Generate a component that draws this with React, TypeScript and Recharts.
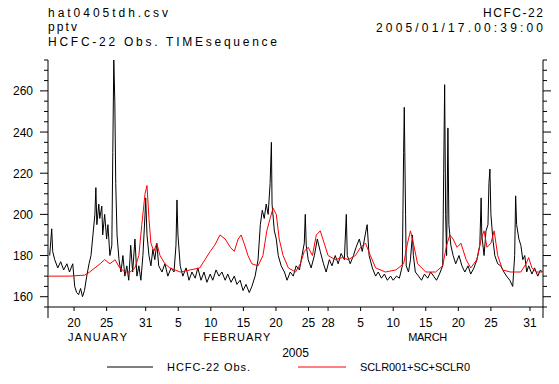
import { LineChart, Line, XAxis, YAxis } from "recharts";

// HCFC-22 observed, [day of 2005, pptv]
const observed: [number, number][] = [
  [16.26, 180], [16.57, 193], [16.72, 182], [17.03, 178], [17.5, 174], [17.95, 177],
  [18.4, 173], [18.9, 176], [19.3, 172], [19.8, 176], [20.1, 165], [20.4, 162],
  [20.7, 161], [21.0, 164], [21.3, 160], [21.6, 163], [21.95, 170], [22.3, 176],
  [22.6, 180], [22.9, 190], [23.2, 200], [23.35, 213], [23.5, 195], [23.8, 205],
  [23.95, 198], [24.26, 204], [24.4, 190], [24.7, 200], [25.0, 188], [25.2, 195],
  [25.5, 180], [25.8, 185], [25.95, 230], [26.1, 275], [26.26, 255], [26.4, 215],
  [26.6, 190], [26.9, 178], [27.2, 172], [27.5, 180], [27.8, 170], [28.1, 175],
  [28.4, 168], [28.7, 185], [29.0, 172], [29.35, 188], [29.65, 170], [29.95, 175],
  [30.26, 168], [30.57, 180], [30.9, 200], [31.0, 208], [31.2, 190], [31.5, 180],
  [31.8, 175], [32.1, 183], [32.4, 178], [32.7, 186], [33.0, 175], [33.5, 172],
  [33.95, 176], [34.4, 170], [34.9, 174], [35.35, 172], [35.65, 185], [35.8, 207],
  [35.95, 190], [36.3, 175], [36.7, 170], [37.2, 174], [37.65, 168], [38.1, 172],
  [38.6, 169], [39.0, 174], [39.5, 168], [39.95, 172], [40.4, 167], [40.9, 171],
  [41.3, 168], [41.8, 173], [42.25, 170], [42.7, 172], [43.2, 168], [43.6, 171],
  [44.1, 167], [44.6, 170], [45.0, 166], [45.5, 168], [45.95, 163], [46.4, 166],
  [46.9, 162], [47.3, 165], [47.8, 170], [48.25, 178], [48.6, 195], [48.9, 202],
  [49.2, 198], [49.5, 205], [49.8, 200], [50.1, 215], [50.3, 235], [50.4, 205],
  [50.75, 192], [51.05, 188], [51.35, 180], [51.8, 175], [52.3, 172], [52.7, 168],
  [53.2, 172], [53.65, 170], [54.1, 175], [54.6, 173], [55.0, 180], [55.35, 186],
  [55.5, 200], [55.65, 185], [55.95, 178], [56.4, 174], [56.9, 180], [57.35, 188],
  [57.8, 182], [58.3, 176], [58.7, 172], [59.2, 178], [59.6, 175], [60.1, 180],
  [60.55, 176], [61.0, 181], [61.5, 178], [61.8, 200], [61.95, 180], [62.4, 176],
  [62.9, 180], [63.3, 184], [63.8, 188], [64.25, 182], [64.7, 190], [65.0, 195],
  [65.3, 180], [65.8, 174], [66.3, 170], [66.7, 172], [67.2, 169], [67.65, 171],
  [68.1, 168], [68.6, 170], [69.0, 168], [69.5, 170], [69.95, 169], [70.4, 175],
  [70.6, 230], [70.7, 252], [70.9, 200], [71.0, 175], [71.35, 172], [71.65, 178],
  [71.95, 190], [72.1, 180], [72.4, 172], [72.9, 170], [73.35, 168], [73.8, 171],
  [74.3, 169], [74.75, 172], [75.2, 170], [75.65, 168], [76.1, 171], [76.6, 175],
  [76.75, 220], [76.9, 263], [77.05, 200], [77.2, 180], [77.4, 242], [77.55, 195],
  [77.85, 185], [78.2, 180], [78.6, 176], [79.1, 180], [79.55, 175], [80.0, 172],
  [80.5, 175], [80.9, 171], [81.4, 174], [81.85, 178], [82.3, 185], [82.5, 208],
  [82.6, 190], [82.95, 180], [83.25, 192], [83.55, 195], [83.7, 215], [83.85, 222],
  [84.0, 200], [84.3, 188], [84.6, 180], [85.05, 176], [85.5, 175], [86.0, 172],
  [86.4, 170], [86.9, 168], [87.35, 165], [87.65, 180], [87.8, 209], [87.95, 195],
  [88.3, 188], [88.6, 185], [88.9, 178], [89.2, 180], [89.5, 172], [89.8, 175],
  [90.3, 171], [90.7, 174], [91.2, 170], [91.6, 173], [91.9, 172],
];

// SCLR001+SC+SCLR0 model tracer, [day of 2005, pptv]
const model: [number, number][] = [
  [16.1, 170], [19.3, 170], [21.65, 170.5], [22.4, 172], [23.2, 174], [24.0, 176],
  [24.7, 178], [25.5, 176], [26.3, 178], [27.0, 174], [27.8, 172], [28.6, 172],
  [29.35, 174], [29.95, 180], [30.4, 195], [30.9, 210], [31.2, 214], [31.5, 198],
  [31.8, 186], [32.25, 182], [32.7, 186], [33.2, 180], [33.95, 176], [34.7, 174],
  [36.3, 172], [37.8, 173], [39.3, 174], [40.1, 178], [40.9, 182], [41.6, 185],
  [42.4, 190], [43.2, 188], [44.0, 184], [44.6, 182], [45.2, 188], [45.65, 190],
  [46.1, 186], [46.7, 180], [47.3, 176], [48.25, 175], [49.0, 180], [49.6, 192],
  [50.1, 198], [50.55, 203], [51.05, 200], [51.5, 188], [52.1, 180], [52.9, 174],
  [54.0, 172], [54.75, 176], [55.35, 182], [55.95, 184], [56.6, 180], [57.2, 190],
  [57.8, 192], [58.4, 186], [59.0, 180], [60.1, 178], [61.2, 179], [62.1, 178],
  [63.2, 180], [64.0, 184], [64.75, 186], [65.5, 180], [66.3, 174], [67.8, 172],
  [69.4, 173], [70.6, 176], [71.2, 186], [71.65, 192], [72.1, 186], [72.75, 176],
  [74.0, 172], [75.5, 172], [76.6, 175], [77.2, 185], [77.7, 190], [78.2, 188],
  [78.8, 184], [79.4, 186], [80.2, 178], [80.9, 174], [81.85, 178], [82.5, 188],
  [82.95, 192], [83.4, 184], [84.0, 186], [84.5, 192], [85.05, 180], [85.8, 173],
  [87.0, 172], [88.6, 172], [89.4, 176], [89.8, 179], [90.3, 174], [91.0, 172],
  [91.9, 172],
];

const dayTicks = [16, 20, 25, 31, 36, 41, 46, 51, 56, 59, 64, 69, 74, 79, 84, 90, 92];
const dayLabels = ["", "20", "25", "31", "5", "10", "15", "20", "25", "28", "5", "10", "15", "20", "25", "31", ""];
const topTicks = [
  18, 20, 22, 24, 26, 28, 30, 32, 34, 36, 38, 40, 42, 44, 46, 48, 50, 52, 54, 56,
  58, 60, 62, 64, 66, 68, 70, 72, 74, 76, 78, 80, 82, 84, 86, 88, 90,
];
const monthTicks = [23.6, 45, 74.3];
const monthNames = ["JANUARY", "FEBRUARY", "MARCH"];
const monthWidths = [59, 67, 39];
const pptvTicks = [
  155, 160, 165, 170, 175, 180, 185, 190, 195, 200, 205, 210, 215, 220, 225, 230,
  235, 240, 245, 250, 255, 260, 265, 270, 275,
];
const pptvLabels = [160, 180, 200, 220, 240, 260];

const obsData = observed.map(([d, v]) => ({ d, v }));
const modelData = model.map(([d, v]) => ({ d, v }));

const font = "'Liberation Sans', Arial, sans-serif";

function LeftTick(props: any) {
  const { x, y, payload } = props;
  const major = pptvLabels.includes(payload.value);
  return (
    <g>
      <line x1={x} x2={x - (major ? 8 : 4)} y1={y} y2={y} stroke="#000" />
      {major && (
        <text x={x - 15} y={y + 4.5} textAnchor="end" fontSize={12} fontFamily={font} fill="#000">
          {payload.value}
        </text>
      )}
    </g>
  );
}

function RightTick(props: any) {
  const { x, y, payload } = props;
  const major = pptvLabels.includes(payload.value);
  return <line x1={x} x2={x + (major ? 8 : 4)} y1={y} y2={y} stroke="#000" />;
}

function DayTick(props: any) {
  const { x, y, payload } = props;
  const i = dayTicks.indexOf(payload.value);
  const edge = dayLabels[i] === "";
  return (
    <g>
      <line x1={x} x2={x} y1={y} y2={y + (edge ? 11 : 4)} stroke="#000" />
      {!edge && (
        <text x={x} y={y + 20} textAnchor="middle" fontSize={12} fontFamily={font} fill="#000">
          {dayLabels[i]}
        </text>
      )}
    </g>
  );
}

function TopTick(props: any) {
  const { x, y, payload } = props;
  const tall = payload.value === 90;
  return <line x1={x} x2={x} y1={y} y2={y - (tall ? 8 : 5)} stroke="#000" />;
}

function MonthTick(props: any) {
  const { x, y, payload } = props;
  const i = monthTicks.indexOf(payload.value);
  return (
    <text
      x={x}
      y={y + 14}
      textAnchor="middle"
      fontSize={11}
      fontFamily={font}
      fill="#000"
      textLength={monthWidths[i]}
      lengthAdjust="spacing"
    >
      {monthNames[i]}
    </text>
  );
}

export default function App() {
  return (
    <div style={{ position: "absolute", left: 0, top: 0, width: 559, height: 384, background: "#fff" }}>
      <LineChart width={559} height={384} margin={{ top: 60, right: 0, bottom: 42, left: 0 }}>
        <XAxis
          xAxisId="main"
          dataKey="d"
          type="number"
          domain={[16, 92]}
          allowDataOverflow
          ticks={dayTicks}
          interval={0}
          height={20}
          tickSize={0}
          tickMargin={0}
          tick={DayTick}
          axisLine={{ stroke: "#000" }}
          tickLine={false}
        />
        <XAxis
          xAxisId="month"
          dataKey="d"
          type="number"
          domain={[16, 92]}
          allowDataOverflow
          ticks={monthTicks}
          interval={0}
          height={15}
          tickSize={0}
          tickMargin={0}
          tick={MonthTick}
          axisLine={false}
          tickLine={false}
          label={{ value: "2005", position: "bottom", offset: 6, fill: "#000", fontSize: 12, fontFamily: font }}
        />
        <XAxis
          xAxisId="top"
          orientation="top"
          dataKey="d"
          type="number"
          domain={[16, 92]}
          allowDataOverflow
          ticks={topTicks}
          interval={0}
          height={0}
          tickSize={0}
          tickMargin={0}
          tick={TopTick}
          axisLine={{ stroke: "#000" }}
          tickLine={false}
        />
        <YAxis
          yAxisId="left"
          type="number"
          domain={[155, 275]}
          allowDataOverflow
          ticks={pptvTicks}
          interval={0}
          width={48}
          tickSize={0}
          tickMargin={0}
          tick={LeftTick}
          axisLine={{ stroke: "#000" }}
          tickLine={false}
        />
        <YAxis
          yAxisId="right"
          orientation="right"
          type="number"
          domain={[155, 275]}
          allowDataOverflow
          ticks={pptvTicks}
          interval={0}
          width={16}
          tickSize={0}
          tickMargin={0}
          tick={RightTick}
          axisLine={{ stroke: "#000" }}
          tickLine={false}
        />
        <Line
          xAxisId="main"
          yAxisId="left"
          data={obsData}
          dataKey="v"
          type="linear"
          stroke="#000"
          strokeWidth={1}
          dot={false}
          activeDot={false}
          isAnimationActive={false}
        />
        <Line
          xAxisId="main"
          yAxisId="left"
          data={modelData}
          dataKey="v"
          type="linear"
          stroke="#ff0000"
          strokeWidth={1}
          dot={false}
          activeDot={false}
          isAnimationActive={false}
        />
      </LineChart>
      <svg
        width={559}
        height={384}
        style={{ position: "absolute", left: 0, top: 0, pointerEvents: "none" }}
        fontFamily={font}
        fontSize={12}
        fill="#000"
      >
        <text x={48} y={16.5} textLength={120} lengthAdjust="spacing">hat0405tdh.csv</text>
        <text x={48} y={31} textLength={29} lengthAdjust="spacing">pptv</text>
        <text x={48} y={45.5} textLength={229} lengthAdjust="spacing">HCFC-22 Obs. TIMEsequence</text>
        <text x={543} y={16.5} textAnchor="end" textLength={60} lengthAdjust="spacing">HCFC-22</text>
        <text x={543} y={31.5} textAnchor="end" textLength={167} lengthAdjust="spacing">2005/01/17.00:39:00</text>
        <line x1={107} x2={153} y1={367} y2={367} stroke="#000" />
        <text x={167} y={371} fontSize={11} textLength={83} lengthAdjust="spacing">HCFC-22 Obs.</text>
        <line x1={298} x2={346} y1={367} y2={367} stroke="#ff0000" />
        <text x={360} y={371} fontSize={11} textLength={110} lengthAdjust="spacing">SCLR001+SC+SCLR0</text>
      </svg>
    </div>
  );
}
